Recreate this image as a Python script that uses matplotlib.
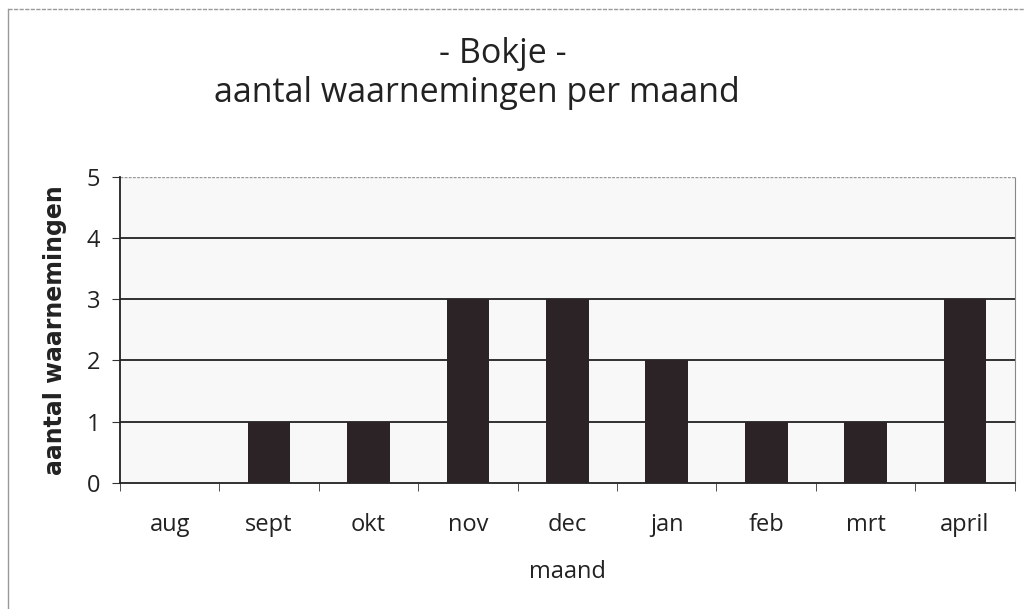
import matplotlib
matplotlib.use('Agg')
import matplotlib.pyplot as plt
from matplotlib.lines import Line2D
import numpy as np

# data
maanden = ['aug', 'sept', 'okt', 'nov', 'dec', 'jan', 'feb', 'mrt', 'april']
aantal = [0, 1, 1, 3, 3, 2, 1, 1, 3]
yticks = [0, 1, 2, 3, 4, 5]

plt.rcParams['font.family'] = ['Open Sans', 'DejaVu Sans']

fig = plt.figure(figsize=(10.25, 6.09), dpi=100)
ax = fig.add_axes([0.117, 0.207, 0.873, 0.503])
ax.set_facecolor('#f8f8f8')

x = np.arange(len(maanden))
ax.bar(x, aantal, width=0.43, color='#2b2325', zorder=3)

ax.set_xlim(-0.5, len(maanden) - 0.5)
ax.set_ylim(0, 5)
ax.set_yticks(yticks)
ax.set_yticklabels([str(v) for v in yticks], fontsize=17, color='#222222')
ax.set_xticks(x)
ax.set_xticklabels(maanden, fontsize=17, color='#222222')
ax.tick_params(axis='x', length=0, pad=22)
ax.set_xticks(np.arange(len(maanden) + 1) - 0.5, minor=True)
ax.tick_params(axis='x', which='minor', length=6, direction='out', color='#333333')
ax.tick_params(axis='y', length=6, direction='out', pad=8, color='#333333')

for v in yticks[1:-1]:
    ax.axhline(v, color='#222222', lw=1.3, zorder=2)
ax.axhline(5, color='#999999', lw=1, ls=(0, (2, 1)), zorder=2)

for s in ['left', 'bottom']:
    ax.spines[s].set_color('#222222')
    ax.spines[s].set_linewidth(1.3)
ax.spines['top'].set_visible(False)
ax.spines['right'].set_color('#888888')
ax.spines['right'].set_linestyle((0, (2, 1)))

ax.set_xlabel('maand', fontsize=17, labelpad=16, color='#222222')
ax.set_ylabel('aantal waarnemingen', fontsize=17, fontweight='bold',
              labelpad=14, color='#222222',
              family=['Liberation Sans Narrow', 'DejaVu Sans'])

fig.text(0.491, 0.897, '- Bokje -', ha='center', va='baseline', fontsize=24.5, color='#222222')
fig.text(0.465, 0.833, 'aantal waarnemingen per maand', ha='center', va='baseline', fontsize=24.5, color='#222222')

# outer frame of the scanned chart
fig.add_artist(Line2D([0.008, 0.008], [0.0, 0.985], transform=fig.transFigure, color='#999999', lw=1))
fig.add_artist(Line2D([0.008, 1.0], [0.985, 0.985], transform=fig.transFigure, color='#999999', lw=1, ls=(0, (3, 1))))

fig.savefig('out.png', dpi=100)
